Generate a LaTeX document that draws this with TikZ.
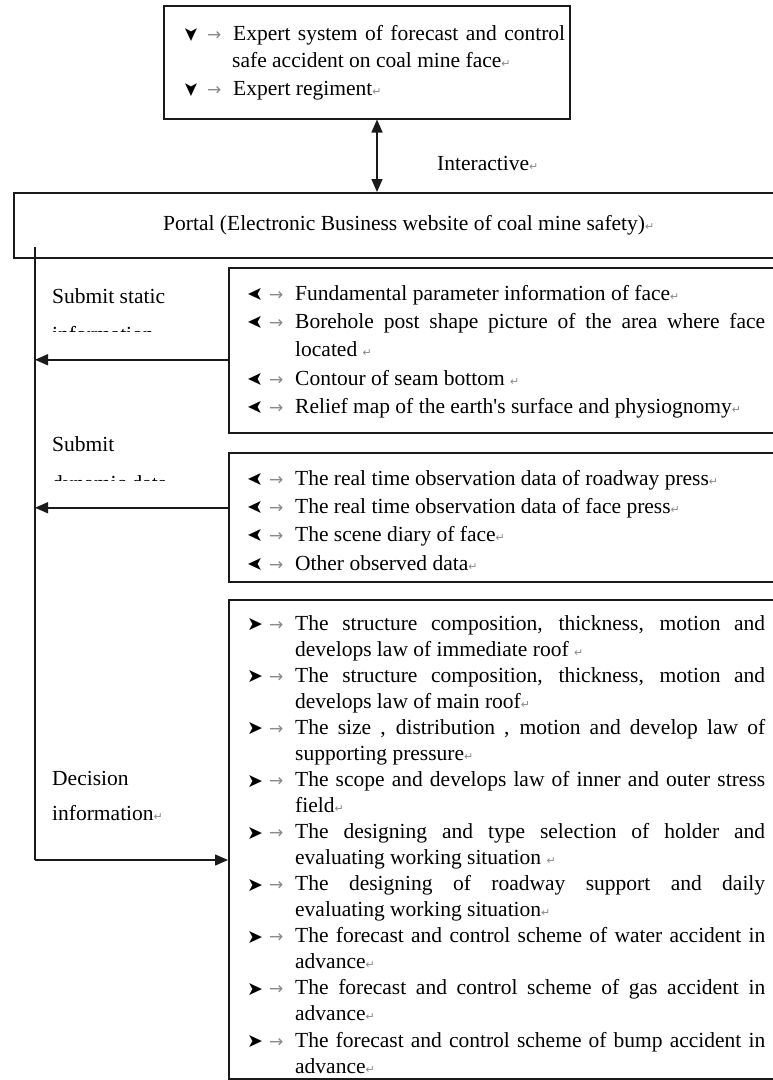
\documentclass[tikz,border=0pt]{standalone}
\usepackage{fontspec}
\setmainfont{Liberation Serif}
\newfontfamily\symf{DejaVu Sans}
\usepackage{graphicx}
\usetikzlibrary{arrows.meta}
\definecolor{linec}{HTML}{1A1A1A}
\definecolor{markc}{HTML}{8A8A8A}
\newcommand\bulglyph{{\symf\fontsize{19}{19}\selectfont ➤}}
\newcommand\bulR{\makebox[22pt][l]{\raisebox{-0.5pt}{\bulglyph}}}
\newcommand\bulL{\makebox[22pt][l]{\raisebox{0pt}{\rotatebox[origin=c]{180}{\bulglyph}}}}
\newcommand\bulD{\makebox[22pt][l]{\raisebox{0pt}{\rotatebox[origin=c]{-90}{\bulglyph}}}}
\newcommand\tabmk{\makebox[26pt][l]{\textcolor{markc}{\symf\fontsize{17}{17}\selectfont →}}}
\newcommand\retmk{\textcolor{markc}{\symf\fontsize{11}{11}\selectfont ↵}}
\newcommand\itm[2]{\noindent\hangindent=48pt\hangafter=1\strut#1\tabmk#2\par}
\begin{document}
\begin{tikzpicture}[x=1pt,y=-1pt,
  box/.style={draw=linec,line width=1.5pt,rectangle,inner sep=0pt,anchor=north west},
  para/.style={inner sep=0pt,anchor=north west,align=justify,text width=#1},
  lbl/.style={inner sep=0pt,anchor=base west,font=\fontsize{21.5}{26}\selectfont},
  conn/.style={draw=linec,line width=1.5pt},
  arr/.style={conn,-{Triangle[length=13pt,width=11pt]}},
  dbl/.style={conn,{Triangle[length=13pt,width=11pt]}-{Triangle[length=13pt,width=11pt]}}]
\fill[white] (0,0) rectangle (773,1080);
\useasboundingbox (0,0) rectangle (773,1080);

% boxes
\node[box,minimum width=406pt,minimum height=113pt] (expert) at (163,5) {};
\node[box,minimum width=790pt,minimum height=65pt,font=\fontsize{21.5}{26}\selectfont] (portal) at (13,192) {Portal (Electronic Business website of coal mine safety)\retmk};
\node[box,minimum width=580pt,minimum height=165pt] (static) at (228,267) {};
\node[box,minimum width=580pt,minimum height=129pt] (dynamic) at (228,452) {};
\node[box,minimum width=580pt,minimum height=479pt] (decision) at (228,599) {};

% box texts
\node[para=380pt,font=\fontsize{21.5}{27.5}\selectfont] (expertTxt) at (185,20.75) {%
\parskip=0pt\tolerance=10000\hbadness=10000
\noindent\hangindent=47pt\hangafter=1\strut\bulD\tabmk Expert system of forecast and control\linebreak safe accident on coal mine face\retmk\par
\itm\bulD{Expert regiment\retmk}};

\node[para=518pt,font=\fontsize{21.5}{28.3}\selectfont] (staticTxt) at (247,280.2) {%
\parskip=0pt\tolerance=10000\hbadness=10000
\itm\bulL{Fundamental parameter information of face\retmk}
\itm\bulL{Borehole post shape picture of the area where face\linebreak located \retmk}
\itm\bulL{Contour of seam bottom \retmk}
\itm\bulL{Relief map of the earth\textquotesingle s surface and physiognomy\retmk}};

\node[para=518pt,font=\fontsize{21.5}{28.3}\selectfont] (dynamicTxt) at (247,465.2) {%
\parskip=0pt\tolerance=10000\hbadness=10000
\itm\bulL{The real time observation data of roadway press\retmk}
\itm\bulL{The real time observation data of face press\retmk}
\itm\bulL{The scene diary of face\retmk}
\itm\bulL{Other observed data\retmk}};

\node[para=518pt,font=\fontsize{21.5}{26.05}\selectfont] (decisionTxt) at (247,611.8) {%
\parskip=0pt\tolerance=10000\hbadness=10000
\itm\bulR{The structure composition, thickness, motion and\linebreak develops law of immediate roof \retmk}
\itm\bulR{The structure composition, thickness, motion and\linebreak develops law of main roof\retmk}
\itm\bulR{The size , distribution , motion and develop law of\linebreak supporting pressure\retmk}
\itm\bulR{The scope and develops law of inner and outer stress\linebreak field\retmk}
\itm\bulR{The designing and type selection of holder and\linebreak evaluating working situation \retmk}
\itm\bulR{The designing of roadway support and daily\linebreak evaluating working situation\retmk}
\itm\bulR{The forecast and control scheme of water accident in\linebreak advance\retmk}
\itm\bulR{The forecast and control scheme of gas accident in\linebreak advance\retmk}
\itm\bulR{The forecast and control scheme of bump accident in\linebreak advance\retmk}};

% labels
\node[lbl] (lInter) at (437,170) {Interactive\retmk};
\node[lbl] (lStatA) at (52,303) {Submit static};
\begin{scope}
\clip (40,300) rectangle (225,331);
\node[lbl] (lStatB) at (52,341) {information\retmk};
\end{scope}
\node[lbl] (lDynA) at (52,451) {Submit};
\begin{scope}
\clip (40,455) rectangle (225,480);
\node[lbl] (lDynB) at (52,490) {dynamic data\retmk};
\end{scope}
\node[lbl] (lDecA) at (52,785) {Decision};
\node[lbl] (lDecB) at (52,820) {information\retmk};

% connectors
\coordinate (trunk) at (35,860);
\coordinate (ax) at (377,0);
\draw[dbl] (expert.south -| ax) -- (portal.north -| ax);
\path ([yshift=12pt]portal.south) coordinate (pb);
\draw[conn] (pb -| trunk) -- (trunk);
\path ([yshift=-9.5pt]static.west) coordinate (sOut);
\draw[arr] (sOut) -- (sOut -| trunk);
\path ([yshift=9.5pt]dynamic.west) coordinate (dOut);
\draw[arr] (dOut) -- (dOut -| trunk);
\draw[arr] (trunk) -- (trunk -| decision.west);
\end{tikzpicture}
\end{document}
